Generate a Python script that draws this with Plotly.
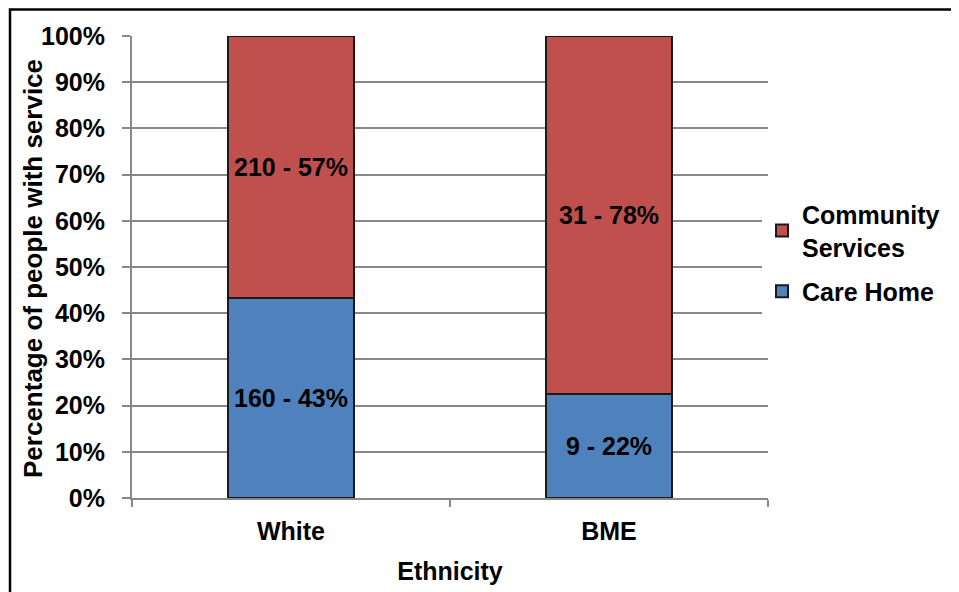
import plotly.graph_objects as go

categories = ["White", "BME"]
care_home = [160, 9]
community = [210, 31]
care_home_pct = [43, 22]
community_pct = [57, 78]
tick_vals = [0, 10, 20, 30, 40, 50, 60, 70, 80, 90, 100]
tick_text = [f"{v}%" for v in tick_vals]

FONT = "Liberation Sans, Arial, sans-serif"
FS = 25
W, H = 959, 592
OFF = 8  # page body margin offset
ML, MT = 132 - OFF, 36 - OFF
MR = W - (768 - OFF)
MB = H - (498 - OFF)
PW, PH = W - ML - MR, H - MT - MB

def bfont(size=FS):
    return dict(family=FONT, size=size, color="black", weight="bold")

def px_x(p):  # page pixel -> paper x
    return (p - OFF - ML) / PW

def px_y(p):  # page pixel -> paper y
    return (H - MB - (p - OFF)) / PH

fig = go.Figure()
fig.add_trace(go.Bar(
    x=categories, y=care_home, name="Care Home", legendgroup="a", legendrank=2,
    marker=dict(color="#4F81BD", line=dict(color="#1a1a1a", width=1.5)),
    text=[f"{c} - {p}%" for c, p in zip(care_home, care_home_pct)],
    textposition="inside", insidetextanchor="middle",
    textfont=bfont(), constraintext="none",
    hoverinfo="skip",
))
fig.add_trace(go.Bar(
    x=categories, y=community, name="Community<br>Services", legendgroup="b", legendrank=1,
    marker=dict(color="#C0504D", line=dict(color="#1a1a1a", width=1.5)),
    text=[f"{c} - {p}%" for c, p in zip(community, community_pct)],
    textposition="inside", insidetextanchor="middle",
    textfont=bfont(), constraintext="none",
    hoverinfo="skip",
))

fig.update_layout(
    width=W, height=H,
    margin=dict(l=ML, r=MR, t=MT, b=MB, autoexpand=False),
    barmode="stack", barnorm="percent", bargap=0.605,
    plot_bgcolor="white", paper_bgcolor="white",
    font=bfont(),
    showlegend=True,
    legend=dict(x=px_x(762), y=px_y(253), xanchor="left", yanchor="middle",
                traceorder="grouped", font=bfont(),
                itemsizing="constant", tracegroupgap=9),
    uniformtext=dict(mode=False),
)
fig.update_xaxes(
    automargin=False,
    title=dict(text="Ethnicity", font=bfont(), standoff=18),
    tickfont=bfont(), ticklabelstandoff=10,
    showline=True, linecolor="#888888", linewidth=2,
    ticks="outside", tickson="boundaries", ticklen=7, tickcolor="#888888", tickwidth=2,
    showgrid=False,
)
fig.update_yaxes(
    automargin=False,
    range=[0, 100],
    tickvals=tick_vals, ticktext=tick_text,
    tickfont=bfont(), ticklabelstandoff=12,
    showline=True, linecolor="#888888", linewidth=2,
    ticks="outside", ticklen=8, tickcolor="#888888", tickwidth=2,
    showgrid=True, gridcolor="#888888", gridwidth=2,
    zeroline=False,
)

fig.add_annotation(text="Percentage of people with service", textangle=-90,
                   xref="paper", yref="paper", x=px_x(33), y=px_y(269),
                   xanchor="center", yanchor="middle", showarrow=False,
                   font=bfont(26))

fig.add_shape(type="rect", xref="paper", yref="paper",
              x0=px_x(10), x1=px_x(1100), y0=px_y(800), y1=px_y(9.5),
              line=dict(color="black", width=2.5), fillcolor="rgba(0,0,0,0)", layer="above")

fig.write_html("out.html")
